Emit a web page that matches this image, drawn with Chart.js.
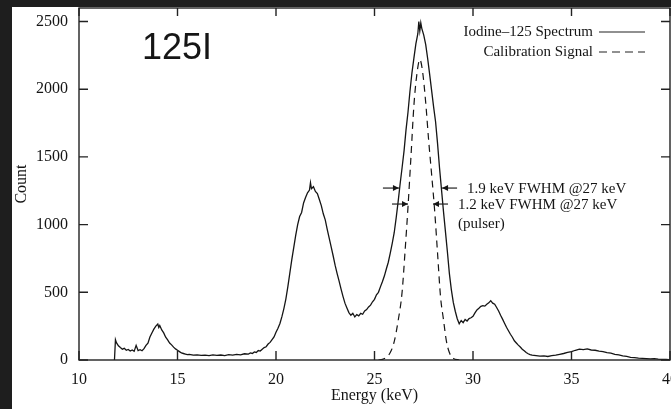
<!DOCTYPE html>
<html>
<head>
<meta charset="utf-8">
<script src="https://cdn.jsdelivr.net/npm/chart.js@4.4.0/dist/chart.umd.min.js"></script>
<style>
  html, body { margin: 0; padding: 0; background: #1e1e1e; overflow: hidden; }
  #panel { position: absolute; left: 12px; top: 7px; width: 659px; height: 402px; background: #fff; }
</style>
</head>
<body>
<div id="panel"><canvas id="spectrumChart"></canvas></div>
<script>
// I-125 measured spectrum (energy in keV, counts per channel)
const spectrumEnergy = [
  11.8, 11.85, 11.9, 12.0, 12.1, 12.2, 12.3, 12.4, 12.5, 12.6, 12.7, 12.8, 12.9, 13.0, 13.1, 13.2, 13.3, 13.4,
  13.5, 13.6, 13.7, 13.8, 13.9, 14.0, 14.05, 14.1, 14.2, 14.3, 14.4, 14.5, 14.6, 14.7, 14.8, 14.9, 15.0,
  15.1, 15.2, 15.3, 15.4, 15.5, 15.6, 15.8, 16.0, 16.2, 16.4, 16.6, 16.8, 17.0, 17.2, 17.4, 17.6, 17.8,
  18.0, 18.2, 18.4, 18.6, 18.7, 18.8, 18.9, 19.0, 19.1, 19.2, 19.3, 19.4, 19.5, 19.6, 19.7, 19.8, 19.9,
  20.0, 20.1, 20.2, 20.3, 20.4, 20.5, 20.6, 20.7, 20.8, 20.9, 21.0, 21.1, 21.2, 21.3, 21.4, 21.5, 21.6,
  21.7, 21.75, 21.8, 21.9, 22.0, 22.1, 22.2, 22.3, 22.4, 22.5, 22.6, 22.7, 22.8, 22.9, 23.0, 23.1, 23.2,
  23.3, 23.4, 23.5, 23.6, 23.7, 23.8, 23.9, 24.0, 24.1, 24.2, 24.3, 24.4, 24.5, 24.6, 24.7, 24.8, 24.9,
  25.0, 25.1, 25.2, 25.3, 25.4, 25.5, 25.6, 25.7, 25.8, 25.9, 26.0, 26.1, 26.2, 26.3, 26.4, 26.5, 26.6,
  26.7, 26.8, 26.9, 27.0, 27.1, 27.2, 27.25, 27.3, 27.35, 27.4, 27.5, 27.6, 27.7, 27.8, 27.9, 28.0, 28.1,
  28.2, 28.3, 28.4, 28.5, 28.6, 28.7, 28.8, 28.9, 29.0, 29.1, 29.2, 29.3, 29.4, 29.5, 29.6, 29.7, 29.8,
  29.9, 30.0, 30.1, 30.2, 30.3, 30.4, 30.5, 30.6, 30.7, 30.8, 30.9, 31.0, 31.1, 31.2, 31.3, 31.4, 31.5,
  31.6, 31.7, 31.8, 31.9, 32.0, 32.1, 32.2, 32.3, 32.4, 32.5, 32.6, 32.7, 32.8, 32.9, 33.0, 33.2, 33.4,
  33.6, 33.8, 34.0, 34.2, 34.4, 34.6, 34.8, 35.0, 35.2, 35.4, 35.6, 35.8, 36.0, 36.2, 36.4, 36.6, 36.8,
  37.0, 37.2, 37.4, 37.6, 37.8, 38.0, 38.2, 38.4, 38.6, 38.8, 39.0, 39.2, 39.4, 39.6, 39.8, 39.95
];
const spectrumCounts = [
  0, 150, 128, 105, 92, 80, 86, 72, 78, 66, 74, 64, 108, 70, 76, 68, 84, 108,
  125, 170, 200, 228, 250, 265, 240, 255, 222, 200, 168, 148, 125, 112, 95, 82, 72,
  62, 52, 48, 44, 40, 42, 36, 38, 34, 36, 32, 38, 34, 37, 33, 40, 36,
  42, 38, 46, 44, 52, 48, 60, 56, 70, 66, 80, 92, 98, 118, 130, 150, 170,
  205, 235, 270, 320, 380, 450, 540, 640, 740, 830, 920, 1000, 1060, 1090, 1160, 1200, 1235,
  1255, 1310, 1265, 1280, 1245, 1230, 1185, 1140, 1080, 1035, 965, 900, 835, 770, 700, 640, 585,
  525, 470, 420, 385, 350, 330, 345, 318, 335, 326, 345, 338, 362, 372, 392, 405, 430,
  448, 482, 500, 540, 578, 620, 672, 722, 790, 862, 940, 1050, 1170, 1300, 1420, 1545, 1700,
  1830, 1985, 2120, 2230, 2335, 2410, 2500, 2430, 2490, 2450, 2400, 2330, 2225, 2110, 1990, 1870, 1760,
  1600, 1420, 1260, 1100, 950, 800, 640, 520, 425, 360, 305, 268, 292, 276, 300, 288, 306,
  312, 322, 348, 370, 382, 396, 402, 398, 412, 422, 438, 420, 412, 388, 362, 330, 302,
  272, 242, 216, 190, 168, 142, 126, 110, 96, 80, 68, 56, 46, 40, 36, 32, 28,
  30, 26, 32, 36, 42, 48, 56, 62, 72, 80, 76, 82, 74, 72, 66, 62, 54,
  50, 42, 38, 30, 26, 20, 18, 14, 12, 10, 8, 10, 6, 5, 4, 2
];

// pulser (calibration) line
const pulserEnergy = [25.2, 25.4, 25.6, 25.8, 26.0, 26.2, 26.4, 26.55, 26.7, 26.85, 27.0, 27.15, 27.3,
  27.45, 27.6, 27.75, 27.9, 28.05, 28.2, 28.35, 28.5, 28.65, 28.8, 29.0, 29.3];
const pulserCounts = [0, 5, 20, 55, 135, 290, 500, 800, 1130, 1500, 1880, 2110, 2220,
  2120, 1900, 1620, 1370, 1110, 790, 470, 300, 140, 55, 12, 0];

const xTicks = [10, 15, 20, 25, 30, 35, 40];
const yTicks = [0, 500, 1000, 1500, 2000, 2500];

const legendLabels = ['Iodine\u2013125 Spectrum', 'Calibration Signal'];

// resolution markers: half-height level, left/right edge (keV), text
const fwhmMarks = [
  { level: 1270, left: 26.24, right: 28.43, text: ['1.9 keV FWHM @27 keV'] },
  { level: 1152, left: 26.70, right: 27.97, text: ['1.2 keV FWHM @27 keV', '(pulser)'] }
];

const serif = '"Liberation Serif", "Times New Roman", serif';
const ink = '#151515';

function toPoints(xs, ys) {
  return xs.map((x, i) => ({ x: x, y: ys[i] }));
}

function drawArrow(ctx, x0, y, x1) {
  const dir = x1 > x0 ? 1 : -1;
  ctx.beginPath();
  ctx.moveTo(x0, y);
  ctx.lineTo(x1, y);
  ctx.stroke();
  ctx.beginPath();
  ctx.moveTo(x1, y);
  ctx.lineTo(x1 - dir * 6, y - 3);
  ctx.lineTo(x1 - dir * 6, y + 3);
  ctx.closePath();
  ctx.fill();
}

// box, inward ticks on all four sides, legend and notes
const decorPlugin = {
  id: 'decor',
  afterDraw(chart) {
    const ctx = chart.ctx;
    const a = chart.chartArea;
    const xs = chart.scales.x;
    const ys = chart.scales.y;
    ctx.save();
    ctx.strokeStyle = '#222';
    ctx.fillStyle = ink;
    ctx.lineWidth = 1.4;
    ctx.strokeRect(a.left, a.top, a.right - a.left, a.bottom - a.top);
    ctx.beginPath();
    xTicks.forEach(v => {
      const px = xs.getPixelForValue(v);
      ctx.moveTo(px, a.bottom); ctx.lineTo(px, a.bottom - 9);
      ctx.moveTo(px, a.top); ctx.lineTo(px, a.top + 8);
    });
    yTicks.forEach(v => {
      const py = ys.getPixelForValue(v);
      ctx.moveTo(a.left, py); ctx.lineTo(a.left + 9, py);
      ctx.moveTo(a.right, py); ctx.lineTo(a.right - 9, py);
    });
    ctx.stroke();

    // legend
    ctx.font = '15px ' + serif;
    ctx.textAlign = 'right';
    ctx.textBaseline = 'middle';
    ctx.lineWidth = 1.2;
    legendLabels.forEach((label, i) => {
      const y = a.top + 24 + i * 20;
      ctx.fillText(label, a.right - 77, y);
      ctx.beginPath();
      ctx.setLineDash(i === 0 ? [] : [8, 5]);
      ctx.moveTo(a.right - 71, y);
      ctx.lineTo(a.right - 25, y);
      ctx.stroke();
    });
    ctx.setLineDash([]);

    // isotope tag
    ctx.font = '36px "Liberation Sans", Arial, sans-serif';
    ctx.textAlign = 'left';
    ctx.textBaseline = 'alphabetic';
    ctx.fillText('125I', a.left + 63, a.top + 51);

    // FWHM arrows and notes
    ctx.font = '15px ' + serif;
    ctx.textBaseline = 'middle';
    ctx.lineWidth = 1.2;
    fwhmMarks.forEach(m => {
      const y = ys.getPixelForValue(m.level);
      const xl = xs.getPixelForValue(m.left);
      const xr = xs.getPixelForValue(m.right);
      drawArrow(ctx, xl - 16, y, xl);
      drawArrow(ctx, xr + 15, y, xr);
      m.text.forEach((t, i) => ctx.fillText(t, xr + 25, y + 1 + i * 19));
    });
    ctx.restore();
  }
};

const ctx = document.getElementById('spectrumChart').getContext('2d');
const spectrumChart = new Chart(ctx, {
  type: 'line',
  data: {
    datasets: [{
      label: legendLabels[0],
      data: toPoints(spectrumEnergy, spectrumCounts),
      borderColor: ink,
      borderWidth: 1.3,
      pointRadius: 0,
      tension: 0,
      fill: false
    }, {
      label: legendLabels[1],
      data: toPoints(pulserEnergy, pulserCounts),
      borderColor: ink,
      borderWidth: 1.2,
      borderDash: [7, 5],
      pointRadius: 0,
      cubicInterpolationMode: 'monotone',
      fill: false
    }]
  },
  options: {
    responsive: true,
    maintainAspectRatio: false,
    animation: false,
    layout: {
      autoPadding: false,
      padding: { top: 1, right: 1, left: 0, bottom: 0 }
    },
    scales: {
      x: {
        type: 'linear',
        min: 10,
        max: 40,
        grid: { display: false, drawTicks: false },
        border: { display: false },
        afterBuildTicks: s => { s.ticks = xTicks.map(v => ({ value: v })); },
        afterFit: s => {
          s.height = 49;
          s.paddingLeft = 0;
          s.paddingRight = 0;
        },
        ticks: { color: ink, font: { family: serif, size: 16 }, padding: 10, maxRotation: 0, autoSkip: false },
        title: { display: true, text: 'Energy (keV)', color: ink, font: { family: serif, size: 16 }, padding: { top: 0, bottom: 4 } }
      },
      y: {
        min: 0,
        max: 2600,
        grid: { display: false, drawTicks: false },
        border: { display: false },
        afterBuildTicks: s => { s.ticks = yTicks.map(v => ({ value: v })); },
        afterFit: s => {
          s.width = 67;
          s.paddingTop = 0;
          s.paddingBottom = 0;
        },
        ticks: { color: ink, font: { family: serif, size: 16 }, padding: 11, callback: v => String(v) },
        title: { display: true, text: 'Count', color: ink, font: { family: serif, size: 16 }, padding: { top: 0, bottom: 0 } }
      }
    },
    plugins: {
      legend: { display: false },
      tooltip: { enabled: false }
    }
  },
  plugins: [decorPlugin]
});
</script>
</body>
</html>
